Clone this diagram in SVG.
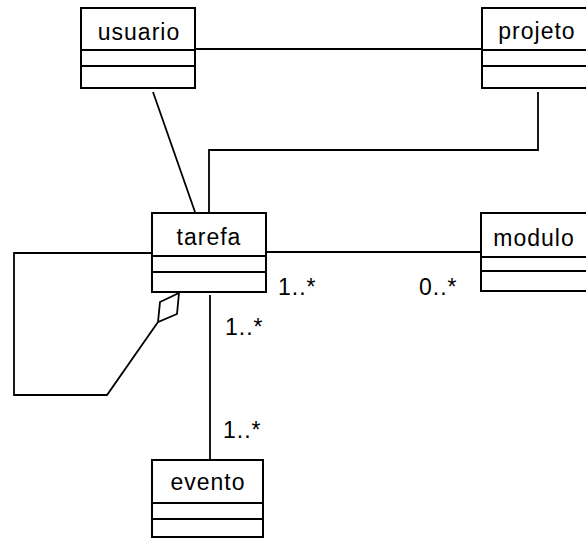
<svg xmlns="http://www.w3.org/2000/svg" width="586" height="538" viewBox="0 0 586 538">
  <style>
    .box { fill: #ffffff; stroke: #000000; stroke-width: 2; }
    .div { stroke: #000000; stroke-width: 2; }
    .name { font-family: "Liberation Sans", Arial, sans-serif; font-size: 23px; letter-spacing: 1px; fill: #000000; text-anchor: middle; }
    .mult { font-family: "Liberation Sans", Arial, sans-serif; font-size: 23px; letter-spacing: 1px; fill: #000000; }
    .edge { fill: none; stroke: #000000; stroke-width: 1.8; }
  </style>
  <rect width="586" height="538" fill="#ffffff"/>

  <!-- associations -->
  <g id="connectors">
    <line class="edge" x1="195" y1="49" x2="482" y2="49"/>
    <line class="edge" x1="153" y1="92" x2="195" y2="212"/>
    <polyline class="edge" points="538,92 538,150 209,150 209,213"/>
    <line class="edge" x1="266" y1="252" x2="481" y2="252"/>
    <line class="edge" x1="210" y1="295" x2="210" y2="460"/>
    <!-- self aggregation on tarefa -->
    <polyline class="edge" points="152,253 14,253 14,395 107,395 158,322"/>
    <polygon class="edge" fill="#ffffff" points="179,293 177,314 158,322 160,302"/>
    <text class="mult" x="278" y="295">1..*</text>
    <text class="mult" x="419" y="295">0..*</text>
    <text class="mult" x="225" y="335">1..*</text>
    <text class="mult" x="223" y="438">1..*</text>
  </g>

  <g id="usuario">
    <rect class="box" x="81" y="8" width="114" height="80"/>
    <line class="div" x1="81" y1="50" x2="195" y2="50"/>
    <line class="div" x1="81" y1="66" x2="195" y2="66"/>
    <text class="name" x="139" y="40">usuario</text>
  </g>

  <g id="projeto">
    <rect class="box" x="482" y="8" width="116" height="80"/>
    <line class="div" x1="482" y1="50" x2="598" y2="50"/>
    <line class="div" x1="482" y1="66" x2="598" y2="66"/>
    <text class="name" x="537" y="39">projeto</text>
  </g>

  <g id="tarefa">
    <rect class="box" x="152" y="213" width="114" height="79"/>
    <line class="div" x1="152" y1="256" x2="266" y2="256"/>
    <line class="div" x1="152" y1="272" x2="266" y2="272"/>
    <text class="name" x="209" y="245">tarefa</text>
  </g>

  <g id="modulo">
    <rect class="box" x="481" y="213" width="116" height="78"/>
    <line class="div" x1="481" y1="257" x2="597" y2="257"/>
    <line class="div" x1="481" y1="271" x2="597" y2="271"/>
    <text class="name" x="534" y="246">modulo</text>
  </g>

  <g id="evento">
    <rect class="box" x="152" y="460" width="111" height="77"/>
    <line class="div" x1="152" y1="503" x2="263" y2="503"/>
    <line class="div" x1="152" y1="519" x2="263" y2="519"/>
    <text class="name" x="208" y="490">evento</text>
  </g>
</svg>
